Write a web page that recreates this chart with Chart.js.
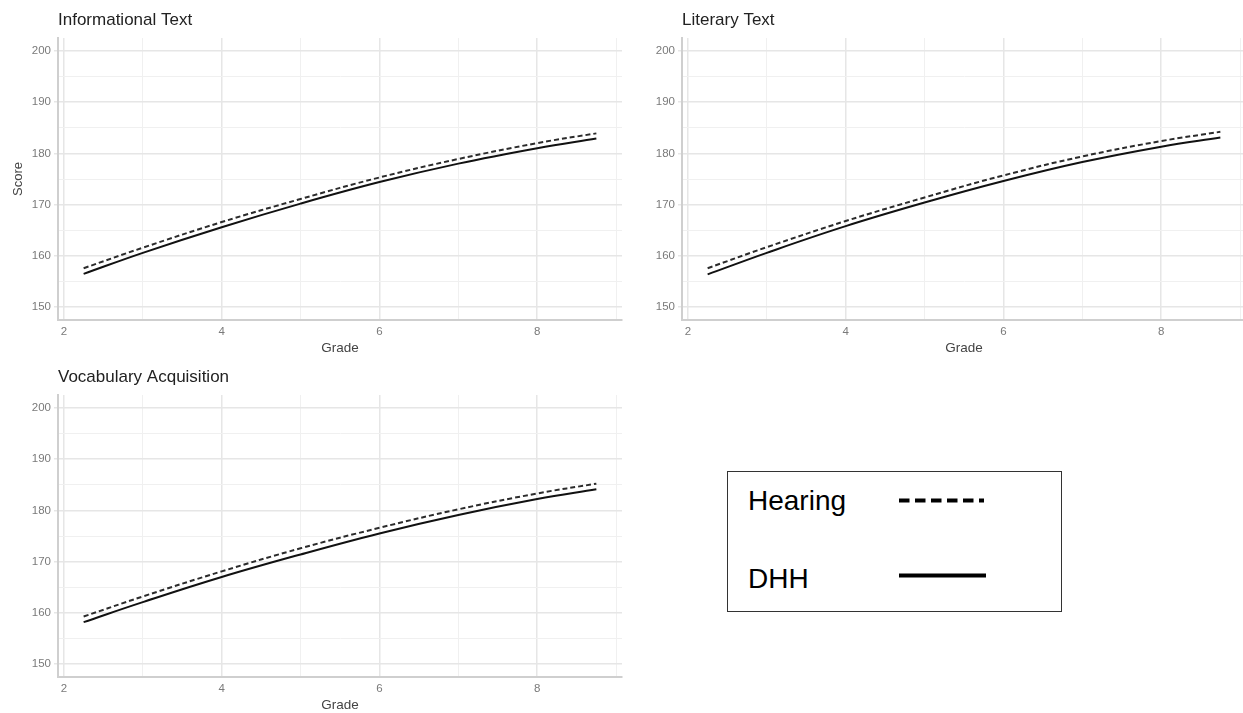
<!DOCTYPE html>
<html>
<head>
<meta charset="utf-8">
<script src="https://cdn.jsdelivr.net/npm/chart.js@4.4.1/dist/chart.umd.min.js"></script>
<style>
html, body { margin:0; padding:0; background:#fff; overflow:hidden; width:1243px; height:713px; position:relative; }
canvas.panel { position:absolute; }
#legend { position:absolute; left:727px; top:471px; width:335px; height:141px; border:1px solid #333; box-sizing:border-box; background:#fff;
  font-family:"Liberation Sans", Arial, sans-serif; color:#000; }
#legend .lbl { position:absolute; left:20px; font-size:28px; line-height:28px; }
#legend svg { position:absolute; left:0; top:0; }
</style>
</head>
<body>
<canvas id="c1" class="panel" width="630" height="360" style="left:0px;top:0px;width:630px;height:360px;"></canvas>
<canvas id="c2" class="panel" width="622" height="360" style="left:624px;top:0px;width:622px;height:360px;"></canvas>
<canvas id="c3" class="panel" width="630" height="360" style="left:0px;top:357px;width:630px;height:360px;"></canvas>
<div id="legend">
  <div class="lbl" id="lgHearing" style="top:15px;">Hearing</div>
  <div class="lbl" id="lgDHH" style="top:93px;">DHH</div>
  <svg width="335" height="141">
    <line x1="171" y1="28.5" x2="256" y2="28.5" stroke="#000" stroke-width="4" stroke-dasharray="10.5 5.5"/>
    <line x1="171" y1="103.5" x2="258" y2="103.5" stroke="#000" stroke-width="4"/>
  </svg>
</div>
<script>
// ---- data ----
const grades = [2.25, 3, 4, 5, 6, 7, 8, 8.75];
const infoHearing = [157.6, 161.6, 166.6, 171.1, 175.3, 178.9, 182.0, 183.9];
const infoDHH     = [156.5, 160.6, 165.6, 170.2, 174.4, 178.0, 181.0, 182.9];
const litHearing  = [157.6, 161.7, 166.8, 171.4, 175.7, 179.4, 182.4, 184.2];
const litDHH      = [156.4, 160.6, 165.8, 170.4, 174.6, 178.3, 181.3, 183.1];
const vocHearing  = [159.3, 163.2, 168.1, 172.6, 176.6, 180.2, 183.3, 185.2];
const vocDHH      = [158.2, 162.1, 167.0, 171.4, 175.5, 179.1, 182.2, 184.1];
const xTicks = [2, 3, 4, 5, 6, 7, 8, 9];
const xLabelTicks = [2, 4, 6, 8];
const yTicks = [150, 155, 160, 165, 170, 175, 180, 185, 190, 195, 200];
const yLabelTicks = [150, 160, 170, 180, 190, 200];
const panelTitles = ['Informational Text', 'Literary Text', 'Vocabulary Acquisition'];
const seriesNames = ['Hearing', 'DHH'];
const xTitle = 'Grade';
const yTitle = 'Score';

const FONT = '"Liberation Sans", Arial, sans-serif';
Chart.defaults.font.family = FONT;

function pts(ys) { return grades.map((g, i) => ({x: g, y: ys[i]})); }

function makePanel(id, title, hearing, dhh, showY, padRight) {
  const isMajorX = v => xLabelTicks.includes(v);
  const isMajorY = v => yLabelTicks.includes(v);
  return new Chart(document.getElementById(id), {
    type: 'line',
    data: {
      datasets: [
        { label: seriesNames[0], data: pts(hearing), borderColor: '#2b2b2b', borderWidth: 2,
          borderDash: [5, 3], pointRadius: 0, tension: 0.4, fill: false },
        { label: seriesNames[1], data: pts(dhh), borderColor: '#111', borderWidth: 2,
          pointRadius: 0, tension: 0.4, fill: false }
      ]
    },
    options: {
      responsive: false,
      animation: false,
      devicePixelRatio: 1,
      layout: { padding: { top: 0, right: padRight, bottom: 0, left: 0 } },
      plugins: {
        legend: { display: false },
        tooltip: { enabled: false },
        title: {
          display: true, text: title, align: 'start', fullSize: false,
          color: '#222', font: { size: 17, weight: 'normal', family: FONT },
          padding: { top: 10.5, bottom: 7.1 }
        }
      },
      scales: {
        x: {
          type: 'linear', min: 1.925, max: 9.075,
          afterBuildTicks: s => { s.ticks = xTicks.map(v => ({value: v})); },
          afterFit: s => { s.height = 40; },
          ticks: { autoSkip: false, maxRotation: 0, padding: 5, color: '#7a7a7a',
                   font: { size: 11.5 },
                   callback: v => isMajorX(v) ? String(v) : '' },
          grid: { drawTicks: false,
                  color: c => isMajorX(c.tick.value) ? '#e6e6e6' : '#f0f0f0',
                  lineWidth: c => isMajorX(c.tick.value) ? 1.5 : 1 },
          border: { display: true, color: '#cfcfcf', width: 2 },
          title: { display: true, text: xTitle, color: '#444', font: { size: 13.5 },
                   padding: { top: 0, bottom: 4 } }
        },
        y: {
          type: 'linear', min: 147.5, max: 202.5,
          afterBuildTicks: s => { s.ticks = yTicks.map(v => ({value: v})); },
          afterFit: s => { s.width = 58; },
          ticks: { autoSkip: false, padding: 3, color: '#7a7a7a', font: { size: 11.5 },
                   callback: v => isMajorY(v) ? String(v) : '' },
          grid: { drawTicks: true, tickLength: 4,
                  color: c => isMajorY(c.tick.value) ? '#e6e6e6' : '#f0f0f0',
                  tickColor: c => isMajorY(c.tick.value) ? '#e6e6e6' : 'rgba(0,0,0,0)',
                  lineWidth: c => isMajorY(c.tick.value) ? 1.5 : 1 },
          border: { display: true, color: '#cfcfcf', width: 2 },
          title: { display: showY, text: yTitle, color: '#444', font: { size: 13 },
                   padding: { top: 11, bottom: 0 } }
        }
      }
    }
  });
}

makePanel('c1', panelTitles[0], infoHearing, infoDHH, true, 8);
makePanel('c2', panelTitles[1], litHearing, litDHH, false, 0);
makePanel('c3', panelTitles[2], vocHearing, vocDHH, false, 8);
</script>
</body>
</html>
